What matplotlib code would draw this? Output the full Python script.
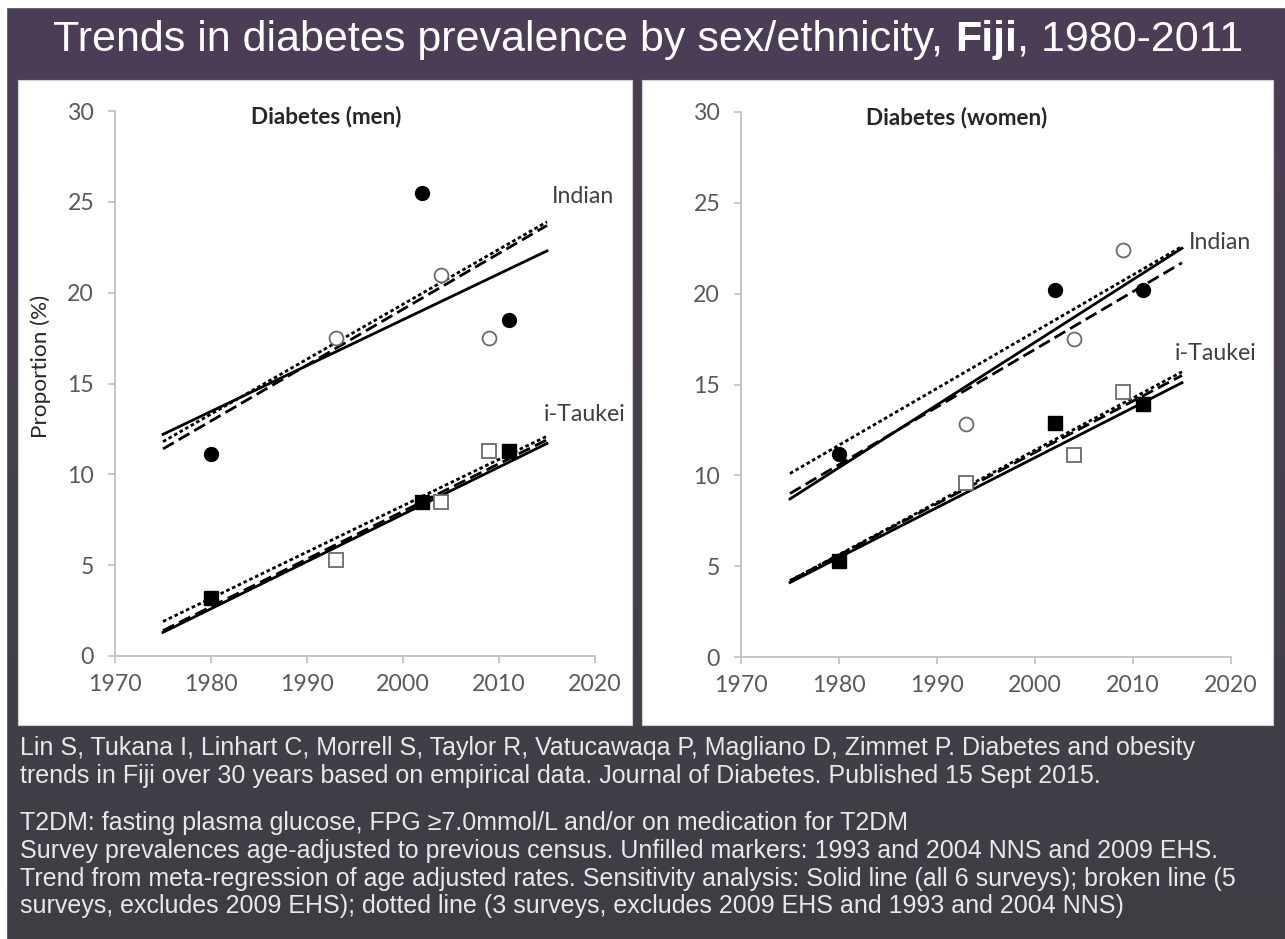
import numpy as np
import matplotlib
matplotlib.use("Agg")
import matplotlib.pyplot as plt
from matplotlib.patches import Rectangle
import matplotlib.colors as mcolors

# ---------------- data ----------------
years_filled = [1980, 2002, 2011]
years_open = [1993, 2004, 2009]
trend_years = [1975, 2015]

# men
men_indian_filled = [11.1, 25.5, 18.5]
men_indian_open = [17.5, 21.0, 17.5]
men_itaukei_filled = [3.2, 8.5, 11.3]
men_itaukei_open = [5.3, 8.5, 11.3]
men_indian_solid = [12.2, 22.3]
men_indian_dashed = [11.4, 23.7]
men_indian_dotted = [11.8, 23.9]
men_itaukei_solid = [1.3, 11.7]
men_itaukei_dashed = [1.4, 11.9]
men_itaukei_dotted = [1.9, 12.1]

# women
women_indian_filled = [11.2, 20.2, 20.2]
women_indian_open = [12.8, 17.5, 22.4]
women_itaukei_filled = [5.3, 12.9, 13.9]
women_itaukei_open = [9.6, 11.1, 14.6]
women_indian_solid = [8.7, 22.5]
women_indian_dashed = [9.0, 21.7]
women_indian_dotted = [10.1, 22.6]
women_itaukei_solid = [4.1, 15.1]
women_itaukei_dashed = [4.2, 15.5]
women_itaukei_dotted = [4.2, 15.7]

x_ticks = [1970, 1980, 1990, 2000, 2010, 2020]
y_ticks = [0, 5, 10, 15, 20, 25, 30]

title = "Trends in diabetes prevalence by sex/ethnicity, "
footer1 = ["Lin S, Tukana I, Linhart C, Morrell S, Taylor R, Vatucawaqa P, Magliano D, Zimmet P. Diabetes and obesity",
           "trends in Fiji over 30 years based on empirical data. Journal of Diabetes. Published 15 Sept 2015."]
footer2 = ["T2DM: fasting plasma glucose, FPG \u22657.0mmol/L and/or on medication for T2DM",
           "Survey prevalences age-adjusted to previous census. Unfilled markers: 1993 and 2004 NNS and 2009 EHS.",
           "Trend from meta-regression of age adjusted rates. Sensitivity analysis: Solid line (all 6 surveys); broken line (5",
           "surveys, excludes 2009 EHS); dotted line (3 surveys, excludes 2009 EHS and 1993 and 2004 NNS)"]

W, H = 1285, 939
fig = plt.figure(figsize=(W / 100, H / 100), dpi=100)

# background gradient
bg = fig.add_axes([0, 0, 1, 1], zorder=-10)
cmap = mcolors.LinearSegmentedColormap.from_list("bg", ["#4b3d56", "#46404e", "#3e3d44"])
grad = np.linspace(0, 1, 256).reshape(-1, 1)
bg.imshow(grad, aspect="auto", cmap=cmap, extent=[0, 1, 0, 1], origin="upper")
bg.set_xlim(0, 1); bg.set_ylim(0, 1)
bg.axis("off")
bg.add_patch(Rectangle((0, 1 - 7 / H), 1, 7 / H, color="white", transform=bg.transAxes))
bg.add_patch(Rectangle((0, 0), 6 / W, 1, color="white", transform=bg.transAxes))

def px_rect(x0, y0, x1, y1):
    return (x0 / W, 1 - y1 / H, (x1 - x0) / W, (y1 - y0) / H)

for (x0, y0, x1, y1) in [(18, 80, 632, 725), (642, 80, 1273, 725)]:
    l, b, w, h = px_rect(x0, y0, x1, y1)
    bg.add_patch(Rectangle((l, b), w, h, facecolor="white", edgecolor="#d0d0d0", lw=0.8,
                           transform=bg.transAxes))

# Title
tfont = "Liberation Sans"
TS = 31
ty = 1 - 40 / H
t1 = fig.text(53 / W, ty, title, color="white", fontsize=TS, family=tfont, va="center", ha="left")
fig.canvas.draw()
r = fig.canvas.get_renderer()
bb = t1.get_window_extent(r)
t2 = fig.text(bb.x1 / W, ty, "Fiji", color="white", fontsize=TS, family=tfont,
              fontweight="bold", va="center", ha="left")
bb2 = t2.get_window_extent(r)
fig.text(bb2.x1 / W, ty, ", 1980-2011", color="white", fontsize=TS, family=tfont,
         va="center", ha="left")

# footer
FS = 18
fy = [748, 776]
for y, s in zip(fy, footer1):
    fig.text(20 / W, 1 - y / H, s, color="#e8e8e8", fontsize=FS, family=tfont, va="center", ha="left")
fy2 = [823, 851, 879, 906]
for y, s in zip(fy2, footer2):
    fig.text(20 / W, 1 - y / H, s, color="#e8e8e8", fontsize=FS, family=tfont, va="center", ha="left")

cfont = "Lato"
CS = 16.7
LW = 2.0
solid_style = "-"
dash_style = (0, (4.5, 2))
dot_style = (0, (1.3, 1.0))

def draw_panel(ax, ind_f, ind_o, ita_f, ita_o, ind_lines, ita_lines, subtitle,
               ind_lab_xy, ita_lab_xy):
    for vals, st in zip(ind_lines, [solid_style, dash_style, dot_style]):
        ax.plot(trend_years, vals, color="black", lw=LW, linestyle=st, zorder=2)
    for vals, st in zip(ita_lines, [solid_style, dash_style, dot_style]):
        ax.plot(trend_years, vals, color="black", lw=LW, linestyle=st, zorder=2)
    ax.plot(years_filled, ind_f, "o", ms=10, color="black", zorder=3)
    ax.plot(years_open, ind_o, "o", ms=10, mfc="white", mec="#6a6a6a", mew=1.3, zorder=3)
    ax.plot(years_filled, ita_f, "s", ms=10.5, color="black", zorder=3)
    ax.plot(years_open, ita_o, "s", ms=10.5, mfc="white", mec="#6a6a6a", mew=1.3, zorder=3)
    ax.set_xlim(1970, 2020)
    ax.set_ylim(0, 30)
    ax.set_xticks(x_ticks)
    ax.set_yticks(y_ticks)
    for s in ["top", "right"]:
        ax.spines[s].set_visible(False)
    for s in ["left", "bottom"]:
        ax.spines[s].set_color("#c0c0c0")
        ax.spines[s].set_linewidth(1.3)
    ax.tick_params(axis="both", direction="out", length=5, width=1.2, color="#c0c0c0",
                   labelcolor="#595959", labelsize=CS)
    ax.tick_params(axis="x", pad=8)
    ax.tick_params(axis="y", pad=10)
    for lab in ax.get_xticklabels() + ax.get_yticklabels():
        lab.set_family(cfont)
    ax.text(0.44, 0.99, subtitle, transform=ax.transAxes, ha="center", va="center",
            fontsize=CS - 0.5, fontweight="bold", family=cfont, color="#262626")
    ax.text(ind_lab_xy[0], ind_lab_xy[1], "Indian", ha="left", va="center", fontsize=CS,
            family=cfont, color="#404040")
    ax.text(ita_lab_xy[0], ita_lab_xy[1], "i-Taukei", ha="left", va="center", fontsize=CS,
            family=cfont, color="#404040")
    ax.patch.set_alpha(0)

axL = fig.add_axes([115 / W, 1 - 656 / H, 480 / W, 545 / H])
draw_panel(axL, men_indian_filled, men_indian_open, men_itaukei_filled, men_itaukei_open,
           [men_indian_solid, men_indian_dashed, men_indian_dotted],
           [men_itaukei_solid, men_itaukei_dashed, men_itaukei_dotted],
           "Diabetes (men)", (2015.5, 25.3), (2014.7, 13.3))
fig.text(41 / W, 1 - 366 / H, "Proportion (%)", rotation=90, ha="center", va="center",
         fontsize=CS - 0.5, family=cfont, color="#262626")

axR = fig.add_axes([741 / W, 1 - 657 / H, 490 / W, 545 / H])
draw_panel(axR, women_indian_filled, women_indian_open, women_itaukei_filled, women_itaukei_open,
           [women_indian_solid, women_indian_dashed, women_indian_dotted],
           [women_itaukei_solid, women_itaukei_dashed, women_itaukei_dotted],
           "Diabetes (women)", (2015.7, 22.8), (2014.3, 16.7))

fig.savefig("out.png", dpi=100)
